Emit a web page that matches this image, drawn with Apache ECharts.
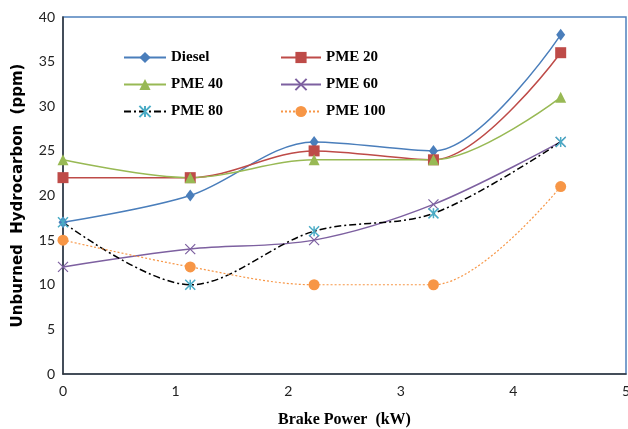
<!DOCTYPE html>
<html>
<head>
<meta charset="utf-8">
<script src="https://cdn.jsdelivr.net/npm/echarts@6/dist/echarts.min.js"></script>
<style>
html,body{margin:0;padding:0;background:#fff;}
#chart{width:628px;height:429px;}
</style>
</head>
<body>
<div id="chart"></div>
<script>
const brakePower = [0, 1.13, 2.23, 3.29, 4.42];
const seriesNames = ['Diesel', 'PME 20', 'PME 40', 'PME 60', 'PME 80', 'PME 100'];
const diesel = [17, 20, 26, 25, 38];
const pme20 = [22, 22, 25, 24, 36];
const pme40 = [24, 22, 24, 24, 31];
const pme60 = [12, 14, 15, 19, 26];
const pme80 = [17, 10, 16, 18, 26];
const pme100 = [15, 12, 10, 10, 21];

const serif = '"Liberation Serif", "DejaVu Serif", serif';
const sans = 'Lato, "Liberation Sans", sans-serif';

function pairs(vals) { return vals.map((v, i) => [brakePower[i], v]); }

const xPath = 'path://M0,0L10,10M10,0L0,10';
const starPath = 'path://M0,0L10,10M10,0L0,10M5,0L5,10';

const chart = echarts.init(document.getElementById('chart'), null, {renderer: 'canvas'});

function mk(name, vals, color, symbol, size, lineStyle, itemStyle) {
  return {
    name: name, type: 'line', data: pairs(vals), smooth: 0.33, smoothMonotone: 'none',
    symbol: symbol, symbolSize: size, showSymbol: true,
    lineStyle: Object.assign({color: color, width: 1.5}, lineStyle || {}),
    itemStyle: Object.assign({color: color}, itemStyle || {}),
    emphasis: {disabled: true}
  };
}

const option = {
  animation: false,
  backgroundColor: '#fff',
  grid: {left: 63, right: 2, top: 17, bottom: 55, outerBoundsMode: 'none', containLabel: false,
         show: true, borderColor: '#4f81bd', borderWidth: 1.5, backgroundColor: 'transparent'},
  legend: [
    {data: ['Diesel', 'PME 40', 'PME 80'], orient: 'vertical', left: 123, top: 50, padding: 0,
     itemWidth: 42, itemHeight: 14, itemGap: 12,
     textStyle: {fontFamily: serif, fontWeight: 'bold', fontSize: 15, color: '#000'}},
    {data: ['PME 20', 'PME 60', 'PME 100'], orient: 'vertical', left: 280, top: 50, padding: 0,
     itemWidth: 40, itemHeight: 14, itemGap: 12,
     textStyle: {fontFamily: serif, fontWeight: 'bold', fontSize: 15, color: '#000'}}
  ],
  xAxis: {
    type: 'value', min: 0, max: 5, interval: 1,
    name: 'Brake Power  (kW)', nameLocation: 'middle', nameGap: 38,
    nameTextStyle: {fontFamily: serif, fontWeight: 'bold', fontSize: 16, color: '#000'},
    axisLine: {show: true, onZero: false, lineStyle: {color: '#333', width: 1.5}},
    axisTick: {show: false},
    axisLabel: {fontFamily: sans, fontSize: 14, color: '#222', margin: 10},
    splitLine: {show: false}
  },
  yAxis: {
    type: 'value', min: 0, max: 40, interval: 5,
    name: 'Unburned  Hydrocarbon  (ppm)', nameLocation: 'middle', nameGap: 37,
    nameTextStyle: {fontFamily: '"DejaVu Sans", sans-serif', fontWeight: 'bold', fontSize: 15, color: '#000'},
    axisLine: {show: true, lineStyle: {color: '#333', width: 1.5}},
    axisTick: {show: false},
    axisLabel: {fontFamily: sans, fontSize: 14, color: '#222', margin: 8},
    splitLine: {show: false}
  },
  series: [
    mk(seriesNames[0], diesel, '#4a7ebb', 'diamond', [9, 12]),
    mk(seriesNames[1], pme20, '#be4b48', 'rect', 11),
    mk(seriesNames[2], pme40, '#98b954', 'triangle', 11),
    mk(seriesNames[3], pme60, '#7d60a0', xPath, 10, null, {color: 'transparent', borderColor: '#7d60a0', borderWidth: 1.2}),
    mk(seriesNames[4], pme80, '#000', starPath, 10, {type: [7, 3, 2, 3], width: 1.5}, {color: 'transparent', borderColor: '#4bacc6', borderWidth: 1.5}),
    mk(seriesNames[5], pme100, '#f79646', 'circle', 11, {type: [2, 2], width: 1.2})
  ]
};
chart.setOption(option);
</script>
</body>
</html>
